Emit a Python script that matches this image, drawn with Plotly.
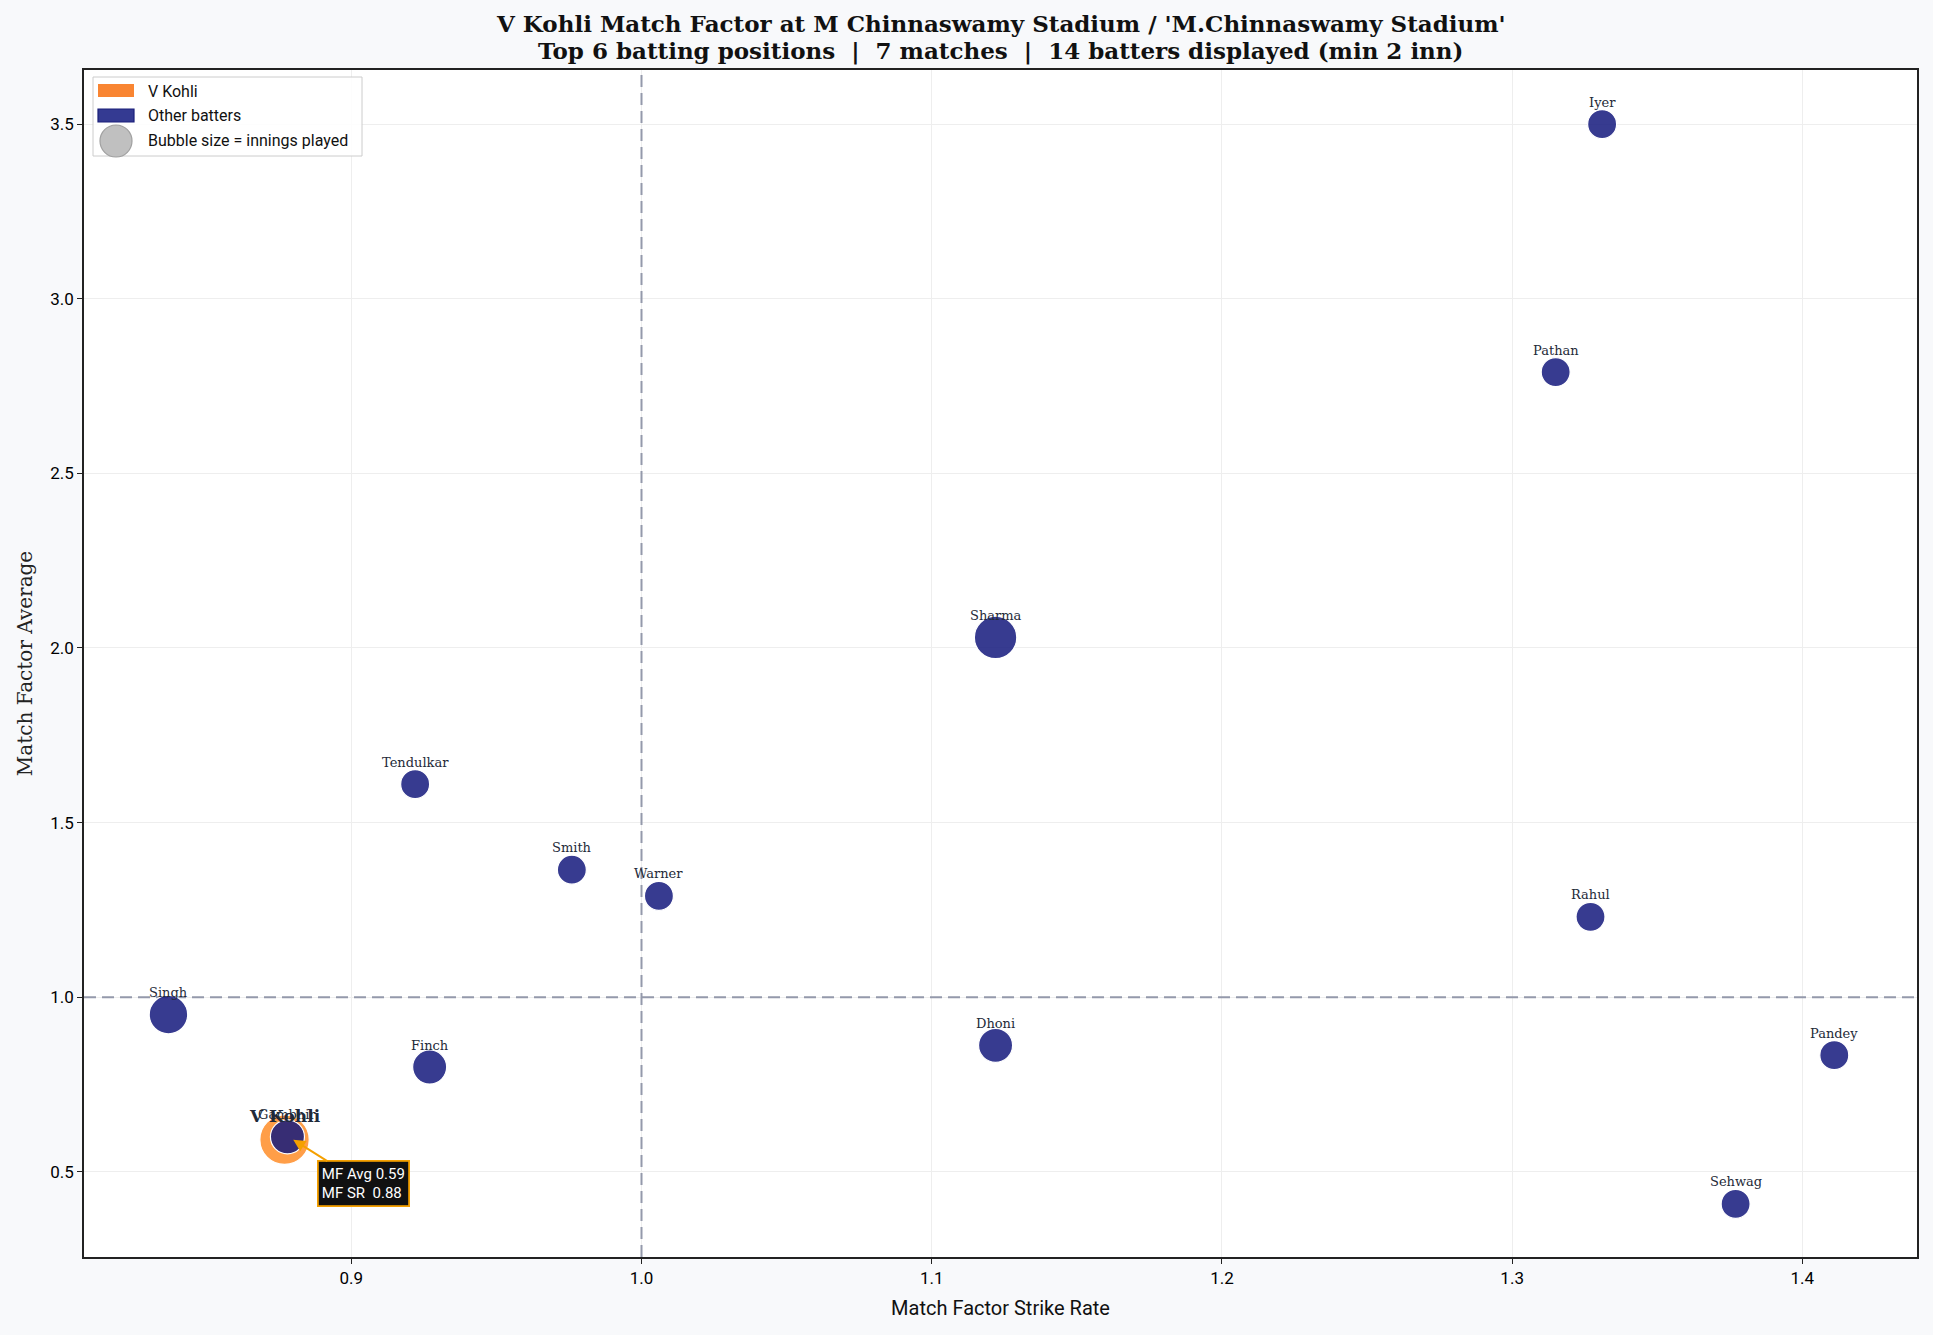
import plotly.graph_objects as go
import math

# ---------------- data ----------------
names = ["Iyer", "Pathan", "Sharma", "Tendulkar", "Smith", "Warner", "Rahul",
         "Singh", "Finch", "Dhoni", "Pandey", "Sehwag", "Gambhir"]
mf_sr = [1.331, 1.315, 1.122, 0.922, 0.976, 1.006, 1.327,
         0.837, 0.927, 1.122, 1.411, 1.377, 0.878]
mf_avg = [3.50, 2.79, 2.03, 1.61, 1.365, 1.29, 1.23,
          0.95, 0.80, 0.862, 0.834, 0.408, 0.60]
innings = [2, 2, 5, 2, 2, 2, 2, 4, 3, 3, 2, 2, 3]

kohli_name = "V Kohli"
kohli_sr = [0.877]
kohli_avg = [0.592]
kohli_inn = [7]

ref_value = 1.0
x_ticks = [0.9, 1.0, 1.1, 1.2, 1.3, 1.4]
y_ticks = [0.5, 1.0, 1.5, 2.0, 2.5, 3.0, 3.5]

title_l1 = "V Kohli Match Factor at M Chinnaswamy Stadium / 'M.Chinnaswamy Stadium'"
title_l2 = "Top 6 batting positions  |  7 matches  |  14 batters displayed (min 2 inn)"

# ---------------- styling ----------------
W, H = 1933, 1335
L, R, T, B = 84, 16, 70, 78
PW, PH = W - L - R, H - T - B
X_RANGE = [0.8079, 1.4395]
Y_RANGE = [0.256, 3.655]

BLUE = "rgba(20,25,125,0.85)"
ORANGE = "rgba(255,127,14,0.76)"
SERIF = "DejaVu Serif"
SANS = "Roboto"
LABEL_COL = "#242a38"
REF_COL = "#9499AB"


def diam(n):
    return math.sqrt(200 + 320 * n)


def px(xp):
    return (xp - L) / PW


def py(yp):
    return (H - B - yp) / PH


fig = go.Figure()

# reference lines (as traces, below markers)
fig.add_trace(go.Scatter(x=[ref_value, ref_value], y=Y_RANGE, mode="lines",
                         line=dict(color=REF_COL, width=2, dash="12px,6px"),
                         hoverinfo="skip"))
fig.add_trace(go.Scatter(x=X_RANGE, y=[ref_value, ref_value], mode="lines",
                         line=dict(color=REF_COL, width=2, dash="12px,6px"),
                         hoverinfo="skip"))

# Kohli (drawn first, underneath)
fig.add_trace(go.Scatter(
    x=kohli_sr, y=kohli_avg, mode="markers",
    marker=dict(size=[diam(n) for n in kohli_inn], color=ORANGE, opacity=1,
                line=dict(color="white", width=1.2)),
    hoverinfo="skip"))

# Other batters
fig.add_trace(go.Scatter(
    x=mf_sr, y=mf_avg, mode="markers",
    marker=dict(size=[diam(n) for n in innings], color=BLUE, opacity=1,
                line=dict(color="white", width=1.2)),
    hoverinfo="skip"))

annotations = []
for n, xv, yv in zip(names, mf_sr, mf_avg):
    annotations.append(dict(x=xv, y=yv, xref="x", yref="y", text=n,
                            showarrow=False, yshift=22,
                            font=dict(family=SERIF, size=13, color=LABEL_COL)))
annotations.append(dict(x=kohli_sr[0], y=kohli_avg[0], xref="x", yref="y",
                        text="<b>" + kohli_name + "</b>", showarrow=False, yshift=24,
                        font=dict(family=SERIF, size=17, color="#1f2a3a")))

# callout box
annotations.append(dict(
    x=kohli_sr[0] + 0.003, y=kohli_avg[0], xref="x", yref="y",
    text="MF Avg %.2f<br>MF SR\u00a0 %.2f" % (kohli_avg[0], kohli_sr[0]),
    showarrow=True, arrowhead=2, arrowsize=1.2, arrowwidth=2, arrowcolor="#F5A000",
    ax=70, ay=44, align="left",
    bgcolor="#111111", bordercolor="#F5A000", borderwidth=1.8, borderpad=3,
    font=dict(family=SANS, size=15, color="white")))

# titles
annotations.append(dict(x=0.5, y=py(23.5), xref="paper", yref="paper",
                        xanchor="center", yanchor="middle", showarrow=False,
                        text="<b>" + title_l1 + "</b>",
                        font=dict(family=SERIF, size=23, color="#111")))
annotations.append(dict(x=0.5, y=py(51), xref="paper", yref="paper",
                        xanchor="center", yanchor="middle", showarrow=False,
                        text="<b>" + title_l2 + "</b>",
                        font=dict(family=SERIF, size=23, color="#111")))

shapes = []
# manual legend
shapes.append(dict(type="rect", xref="paper", yref="paper",
                   x0=px(93), x1=px(362), y0=py(156), y1=py(77),
                   line=dict(color="#cccccc", width=1), fillcolor="rgba(255,255,255,0.85)",
                   layer="above"))
shapes.append(dict(type="rect", xref="paper", yref="paper",
                   x0=px(98), x1=px(134), y0=py(97), y1=py(84),
                   line=dict(width=0), fillcolor="#F98532", layer="above"))
shapes.append(dict(type="rect", xref="paper", yref="paper",
                   x0=px(98), x1=px(134), y0=py(122), y1=py(109),
                   line=dict(color="#1a1f7a", width=1.2), fillcolor="#343A92", layer="above"))
shapes.append(dict(type="circle", xref="paper", yref="paper",
                   x0=px(116 - 16), x1=px(116 + 16), y0=py(141 + 16), y1=py(141 - 16),
                   line=dict(color="#a0a0a0", width=1.2), fillcolor="#c0c0c0", layer="above"))

leg_texts = ["V Kohli", "Other batters", "Bubble size = innings played"]
leg_y = [91, 115, 140]
for t, yy in zip(leg_texts, leg_y):
    annotations.append(dict(x=px(146), y=py(yy), xref="paper", yref="paper",
                            xanchor="left", yanchor="middle", showarrow=False, text=t,
                            font=dict(family=SANS, size=16, color="#111")))

fig.update_layout(
    width=W, height=H,
    margin=dict(l=L, r=R, t=T, b=B),
    paper_bgcolor="#F8F9FB", plot_bgcolor="white",
    showlegend=False,
    annotations=annotations, shapes=shapes,
    xaxis=dict(range=X_RANGE, tickvals=x_ticks, tickformat=".1f",
               showline=True, mirror=True, linecolor="#222", linewidth=1.5,
               ticks="outside", ticklen=5, tickcolor="#222",
               showgrid=True, gridcolor="#eeeeee", gridwidth=1, zeroline=False,
               tickfont=dict(family=SANS, size=17, color="#000"),
               title=dict(text="Match Factor Strike Rate", standoff=14,
                          font=dict(family=SANS, size=20, color="#111"))),
    yaxis=dict(range=Y_RANGE, tickvals=y_ticks, tickformat=".1f",
               showline=True, mirror=True, linecolor="#222", linewidth=1.5,
               ticks="outside", ticklen=5, tickcolor="#222",
               showgrid=True, gridcolor="#eeeeee", gridwidth=1, zeroline=False,
               tickfont=dict(family=SANS, size=17, color="#000"),
               title=dict(text="Match Factor Average", standoff=12,
                          font=dict(family=SERIF, size=20, color="#222"))),
)

fig.write_html("out.html")
